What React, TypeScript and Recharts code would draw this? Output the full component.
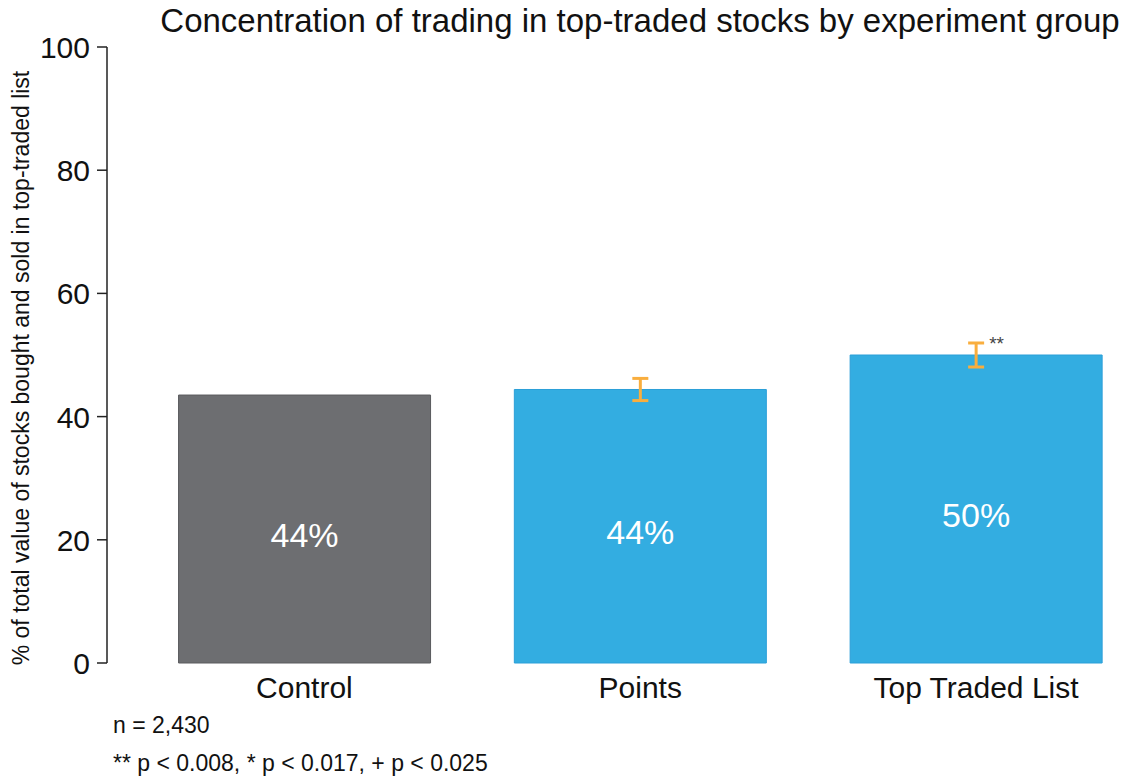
import React from "react";
import {
  BarChart,
  Bar,
  XAxis,
  YAxis,
  Cell,
  ErrorBar,
  LabelList,
} from "recharts";

const GROUPS = ["Control", "Points", "Top Traded List"];
const SHARES = [43.5, 44.4, 50.0];
const SHARE_LABELS = ["44%", "44%", "50%"];
const ERRORS: (number | null)[] = [null, 1.8, 1.95];
const STARS = ["", "", "**"];
const Y_TICKS = [0, 20, 40, 60, 80, 100];

const FILLS = ["#6d6e71", "#33ade1", "#33ade1"];
const STROKES = ["#5a5b5e", "#2b9fd8", "#2b9fd8"];

const data = GROUPS.map((g, i) => ({
  idx: i,
  group: g,
  share: SHARES[i],
  label: SHARE_LABELS[i],
  err: ERRORS[i] ?? undefined,
  stars: STARS[i],
}));

const FONT = "'Liberation Sans', Arial, Helvetica, sans-serif";

function XTick(props: any) {
  const { x, y, payload } = props;
  return (
    <text
      x={x}
      y={y + 27}
      textAnchor="middle"
      fontSize={30}
      fill="#111"
      fontFamily={FONT}
    >
      {GROUPS[payload.value]}
    </text>
  );
}

function YTick(props: any) {
  const { x, y, payload } = props;
  return (
    <text
      x={x - 5}
      y={y + 11}
      textAnchor="end"
      fontSize={30}
      fill="#111"
      fontFamily={FONT}
    >
      {payload.value}
    </text>
  );
}

function StarLabel(props: any) {
  const { x, y, width, value } = props;
  if (!value) return null;
  return (
    <text
      x={x + width / 2 + 13}
      y={y - 5}
      fontSize={19}
      fill="#444"
      fontFamily={FONT}
    >
      {value}
    </text>
  );
}

export default function App() {
  return (
    <div
      style={{
        position: "absolute",
        left: 0,
        top: 0,
        width: 1122,
        height: 776,
        background: "#fff",
        fontFamily: FONT,
      }}
    >
      <BarChart
        width={1122}
        height={776}
        data={data}
        margin={{ top: 47, right: 12, bottom: 0, left: 0 }}
      >
        <text
          x={640}
          y={32}
          textAnchor="middle"
          fontSize={33}
          fill="#111"
          fontFamily={FONT}
        >
          Concentration of trading in top-traded stocks by experiment group
        </text>
        <text
          x={29}
          y={368}
          transform="rotate(-90 29 368)"
          textAnchor="middle"
          fontSize={23}
          fill="#111"
          fontFamily={FONT}
        >
          % of total value of stocks bought and sold in top-traded list
        </text>
        <text x={113} y={733} fontSize={23} fill="#111" fontFamily={FONT}>
          n = 2,430
        </text>
        <text x={113} y={771} fontSize={23} fill="#111" fontFamily={FONT}>
          ** p &lt; 0.008, * p &lt; 0.017, + p &lt; 0.025
        </text>
        <XAxis
          dataKey="idx"
          type="number"
          domain={[-0.588, 2.399]}
          ticks={[0, 1, 2]}
          axisLine={false}
          tickLine={false}
          tick={<XTick />}
          height={113}
          interval={0}
        />
        <YAxis
          type="number"
          domain={[0, 100]}
          ticks={Y_TICKS}
          width={107}
          axisLine={{ stroke: "#222", strokeWidth: 1.5 }}
          tickLine={{ stroke: "#222", strokeWidth: 1.5 }}
          tickSize={10}
          tick={<YTick />}
          interval={0}
        />
        <Bar dataKey="share" barSize={252} isAnimationActive={false}>
          {data.map((d, i) => (
            <Cell key={d.group} fill={FILLS[i]} stroke={STROKES[i]} strokeWidth={1} />
          ))}
          <ErrorBar
            dataKey="err"
            width={8}
            stroke="#f9ae3e"
            strokeWidth={3}
            direction="y"
            isAnimationActive={false}
          />
          <LabelList
            dataKey="label"
            position="center"
            fill="#fff"
            fontSize={34}
            fontFamily={FONT}
            dy={6}
          />
          <LabelList dataKey="stars" content={<StarLabel />} />
        </Bar>
      </BarChart>
    </div>
  );
}
